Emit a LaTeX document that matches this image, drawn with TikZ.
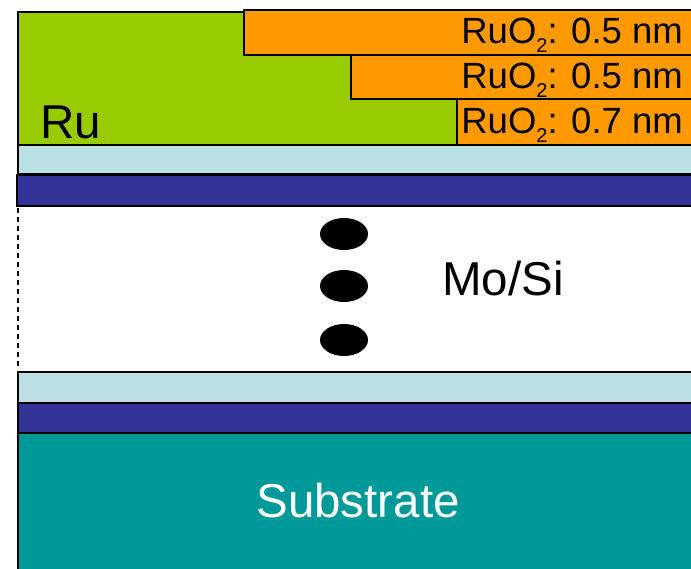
\documentclass[tikz,border=0pt]{standalone}
\usepackage{fontspec}
\setmainfont{Liberation Sans}
\definecolor{ruGreen}{HTML}{99CC00}
\definecolor{oxOrange}{HTML}{FF9900}
\definecolor{capCyan}{HTML}{BBE0E3}
\definecolor{moBlue}{HTML}{333399}
\definecolor{subTeal}{HTML}{009999}
\tikzset{
  layer/.style={draw=black, line width=1.8pt},
  oxlayer/.style={draw=black, line width=1.5pt, fill=oxOrange},
  bigtext/.style={font=\fontsize{47.5}{50}\selectfont, inner sep=0pt},
  oxtext/.style={font=\fontsize{36.5}{40}\selectfont, inner sep=0pt, anchor=base east},
  dotmark/.style={fill=black, draw=none}
}
\newcommand{\ruox}[1]{RuO\raisebox{-9pt}{\fontsize{20}{20}\selectfont 2}: #1 nm}
\begin{document}
\begin{tikzpicture}[x=1pt,y=-1pt]
\useasboundingbox (0,0) rectangle (691,568);
\fill[white] (0,0) rectangle (691,568);
\clip (0,0) rectangle (691,568);
% Ru cap layer
\draw[layer, line width=1.5pt, fill=ruGreen] (18,12) rectangle (705,145);
% RuO2 layers
\draw[oxlayer] (244,10) rectangle (705,55);
\draw[oxlayer] (351,55) rectangle (705,99);
\draw[oxlayer] (457,99) rectangle (705,145);
\node[oxtext] (ox1) at (683,43) {\ruox{0.5}};
\node[oxtext] (ox2) at (683,88) {\ruox{0.5}};
\node[oxtext] (ox3) at (683,133) {\ruox{0.7}};
\node[bigtext, anchor=base west] (ru) at (40,138) {Ru};
% top Si / Mo
\draw[layer, fill=capCyan] (18,145) rectangle (705,174);
\draw[layer, fill=moBlue] (17,175) rectangle (705,206);
% dashed edge
\draw[line width=1.6pt, dash pattern=on 5pt off 4pt] (18,208) -- (18,370);
% dots
\fill[dotmark] (344,234) ellipse [x radius=24, y radius=16];
\fill[dotmark] (344,286) ellipse [x radius=24, y radius=16];
\fill[dotmark] (344,340) ellipse [x radius=24, y radius=16];
\node[bigtext, anchor=base] (mosi) at (503,295) {Mo/Si};
% bottom Si / Mo
\draw[layer, fill=capCyan] (18,372) rectangle (705,403);
\draw[layer, fill=moBlue] (18,403) rectangle (705,433);
% substrate
\draw[layer, fill=subTeal] (18,433) rectangle (705,590);
\node[bigtext, anchor=base, text=white] (sub) at (358,517) {Substrate};
\end{tikzpicture}
\end{document}
